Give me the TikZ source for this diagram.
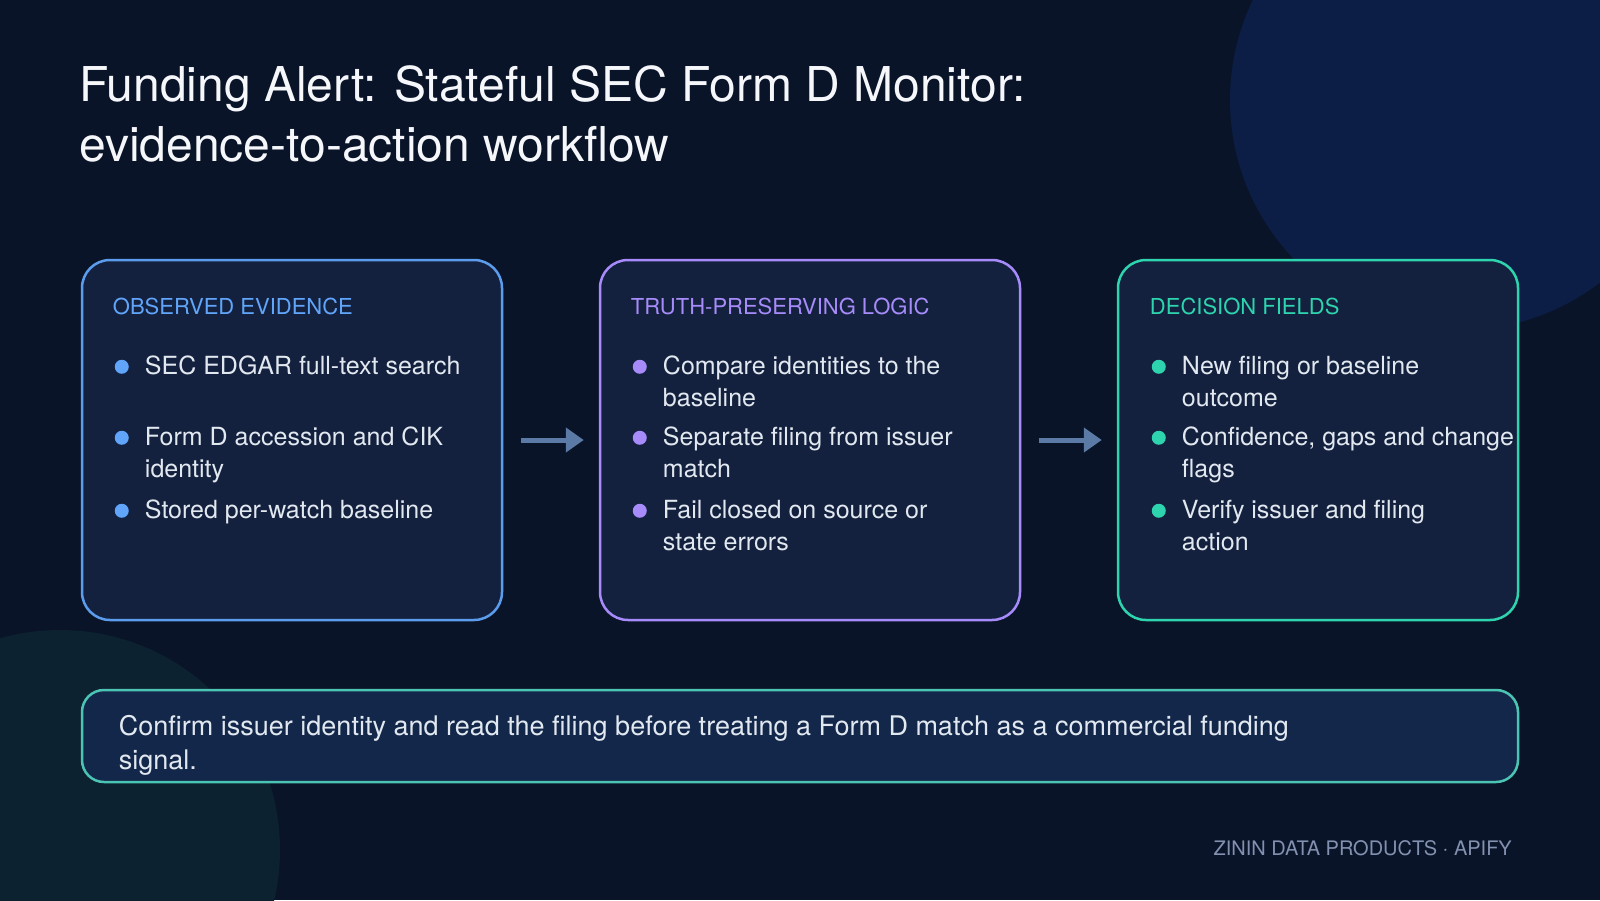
\documentclass[tikz,border=0pt]{standalone}
\usepackage{fontspec}
\setmainfont{TeX Gyre Heros}
\usetikzlibrary{arrows.meta,positioning,calc}

\definecolor{bgdark}{HTML}{0A1429}
\definecolor{blobblue}{HTML}{0C1E46}
\definecolor{blobteal}{HTML}{0C2230}
\definecolor{panelfill}{HTML}{13213E}
\definecolor{notefill}{HTML}{12274A}
\definecolor{evblue}{HTML}{60A5FA}
\definecolor{evborder}{HTML}{5B9CEC}
\definecolor{logicpurple}{HTML}{A78BFA}
\definecolor{fieldteal}{HTML}{2DD4AE}
\definecolor{noteborder}{HTML}{4CC4B4}
\definecolor{itemtext}{HTML}{E2E8F0}
\definecolor{titlewhite}{HTML}{F5F7FA}
\definecolor{footgray}{HTML}{8391B0}
\definecolor{arrowgray}{HTML}{5B7BA6}

\begin{document}
\begin{tikzpicture}[x=1pt,y=1pt,
  panel/.style={draw, line width=2.5pt, rounded corners=28pt, fill=panelfill,
    minimum height=360pt, inner sep=0pt},
  heading/.style={anchor=base west, inner sep=0pt, font=\fontsize{22}{26}\selectfont},
  item/.style={anchor=base west, inner sep=0pt, align=left, text=itemtext,
    font=\fontsize{25}{32}\selectfont},
  bullet/.style={circle, inner sep=0pt, minimum size=14pt},
  flow/.style={draw=arrowgray, line width=5pt, -{Triangle[length=18pt,width=24pt]},
    shorten <=18pt, shorten >=15pt}]

% background
\useasboundingbox (0,0) rectangle (1600,-900);
\begin{scope}
  \clip (0,0) rectangle (1600,-900);
  \fill[bgdark] (0,0) rectangle (1600,-900);
  \fill[blobblue] (1460,-100) circle (230pt);
  \fill[blobteal] (60,-850) circle (220pt);
\end{scope}

% title (base = last line)
\node[anchor=base west, inner sep=0pt, align=left, text=titlewhite,
  font=\fontsize{48}{60}\selectfont] (title) at (79,-161)
  {Funding Alert: Stateful SEC Form D Monitor:\\evidence-to-action workflow};

% three panels
\node[panel, draw=evborder, minimum width=420pt] (obs) at (292,-440) {};
\node[panel, draw=logicpurple, minimum width=420pt] (logic) at (810,-440) {};
\node[panel, draw=fieldteal, minimum width=400pt] (fields) at (1318,-440) {};

\draw[flow] (obs.east) -- (logic.west);
\draw[flow] (logic.east) -- (fields.west);

% observed evidence
\node[heading, text=evblue] (obshead) at ([shift={(32,-56)}]obs.north west) {OBSERVED EVIDENCE};
\node[bullet, fill=evblue] (obsd1) at ([shift={(41,-108)}]obs.north west) {};
\node[bullet, fill=evblue] (obsd2) at ([shift={(41,-179)}]obs.north west) {};
\node[bullet, fill=evblue] (obsd3) at ([shift={(41,-252)}]obs.north west) {};
\node[item] (obs1) at ([shift={(64,-116)}]obs.north west) {SEC EDGAR full-text search};
\node[item] (obs2) at ([shift={(64,-219)}]obs.north west) {Form D accession and CIK\\identity};
\node[item] (obs3) at ([shift={(64,-260)}]obs.north west) {Stored per-watch baseline};

% truth-preserving logic
\node[heading, text=logicpurple] (logichead) at ([shift={(32,-56)}]logic.north west) {TRUTH-PRESERVING LOGIC};
\node[bullet, fill=logicpurple] (logicd1) at ([shift={(41,-108)}]logic.north west) {};
\node[bullet, fill=logicpurple] (logicd2) at ([shift={(41,-179)}]logic.north west) {};
\node[bullet, fill=logicpurple] (logicd3) at ([shift={(41,-252)}]logic.north west) {};
\node[item] (logic1) at ([shift={(64,-148)}]logic.north west) {Compare identities to the\\baseline};
\node[item] (logic2) at ([shift={(64,-219)}]logic.north west) {Separate filing from issuer\\match};
\node[item] (logic3) at ([shift={(64,-292)}]logic.north west) {Fail closed on source or\\state errors};

% decision fields
\node[heading, text=fieldteal] (fieldshead) at ([shift={(33,-56)}]fields.north west) {DECISION FIELDS};
\node[bullet, fill=fieldteal] (fieldsd1) at ([shift={(42,-108)}]fields.north west) {};
\node[bullet, fill=fieldteal] (fieldsd2) at ([shift={(42,-179)}]fields.north west) {};
\node[bullet, fill=fieldteal] (fieldsd3) at ([shift={(42,-252)}]fields.north west) {};
\node[item] (fields1) at ([shift={(65,-148)}]fields.north west) {New filing or baseline\\outcome};
\node[item] (fields2) at ([shift={(65,-219)}]fields.north west) {Confidence, gaps and change\\flags};
\node[item] (fields3) at ([shift={(65,-292)}]fields.north west) {Verify issuer and filing\\action};

% bottom note
\node[draw=noteborder, fill=notefill, line width=2.5pt, rounded corners=22pt,
  minimum width=1436pt, minimum height=92pt, inner sep=0pt] (note) at (800,-736) {};
\node[item, font=\fontsize{27}{34}\selectfont] (notetext) at ([shift={(38,-81)}]note.north west)
  {Confirm issuer identity and read the filing before treating a Form D match as a commercial funding\\signal.};

% footer
\node[anchor=base east, inner sep=0pt, text=footgray, font=\fontsize{20}{24}\selectfont]
  (footer) at (1512,-855) {ZININ DATA PRODUCTS $\cdot$ APIFY};

\end{tikzpicture}
\end{document}
